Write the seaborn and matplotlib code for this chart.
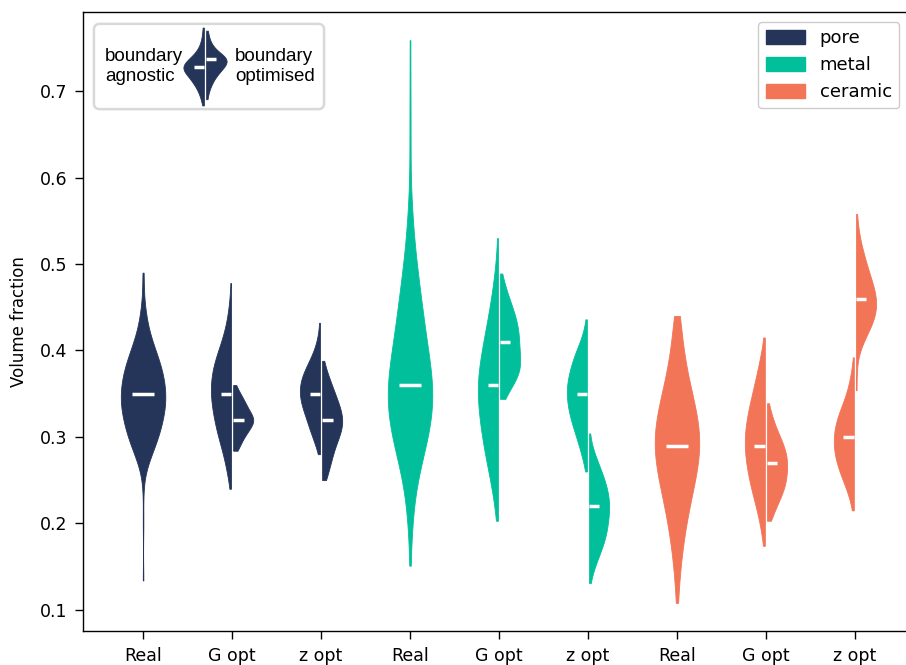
import numpy as np
import pandas as pd
import matplotlib
matplotlib.use("Agg")
import matplotlib.pyplot as plt
from matplotlib.patches import FancyBboxPatch, Patch
import seaborn as sns

# ---------------------------------------------------------------- data
materials = ["pore", "metal", "ceramic"]
methods = ["Real", "G opt", "z opt"]
sides = ["agnostic", "optimised"]
colours = {"pore": "#243559", "metal": "#02bf9b", "ceramic": "#f27558"}

# volume fractions as frequency tables: value levels and number of images at each level
pore_real_levels = [0.134, 0.20, 0.24, 0.26, 0.27, 0.28, 0.29, 0.30, 0.31, 0.32, 0.33, 0.34, 0.35,
                    0.36, 0.37, 0.38, 0.39, 0.40, 0.41, 0.42, 0.43, 0.44, 0.45, 0.46, 0.48, 0.49]
pore_real_counts = [1, 1, 1, 2, 5, 8, 12, 15, 17, 19, 21, 22, 22,
                    21, 20, 18, 15, 12, 9, 6, 4, 3, 2, 1, 1, 1]
pore_g_agnostic_levels = [0.24, 0.25, 0.26, 0.27, 0.28, 0.29, 0.30, 0.31, 0.32, 0.33, 0.34, 0.35,
                          0.36, 0.37, 0.38, 0.39, 0.40, 0.41, 0.42, 0.43, 0.44, 0.45, 0.46, 0.478]
pore_g_agnostic_counts = [1, 2, 4, 5, 7, 9, 12, 14, 15, 17, 18, 19,
                          19, 18, 17, 15, 11, 9, 6, 4, 3, 2, 1, 1]
pore_g_optimised_levels = [0.284, 0.29, 0.30, 0.31, 0.32, 0.33, 0.34, 0.35, 0.36]
pore_g_optimised_counts = [2, 5, 9, 14, 19, 13, 10, 6, 2]
pore_z_agnostic_levels = [0.28, 0.29, 0.30, 0.31, 0.32, 0.33, 0.34, 0.35,
                          0.36, 0.37, 0.38, 0.39, 0.40, 0.41, 0.42, 0.432]
pore_z_agnostic_counts = [1, 4, 7, 10, 12, 15, 18, 19, 19, 17, 13, 9, 5, 3, 1, 1]
pore_z_optimised_levels = [0.25, 0.26, 0.27, 0.28, 0.29, 0.30, 0.31, 0.32,
                           0.33, 0.34, 0.35, 0.36, 0.37, 0.38, 0.388]
pore_z_optimised_counts = [4, 6, 8, 10, 12, 16, 19, 20, 18, 15, 12, 9, 6, 3, 1]

metal_real_levels = [0.151, 0.18, 0.20, 0.22, 0.24, 0.26, 0.28, 0.30, 0.32, 0.34, 0.36, 0.38, 0.40,
                     0.42, 0.44, 0.46, 0.48, 0.50, 0.52, 0.54, 0.56, 0.58, 0.62, 0.66, 0.70, 0.759]
metal_real_counts = [1, 1, 2, 3, 5, 7, 13, 17, 20, 22, 22, 19, 16,
                     14, 12, 10, 8, 6, 4, 3, 2, 1, 1, 1, 1, 1]
metal_g_agnostic_levels = [0.203, 0.22, 0.24, 0.26, 0.28, 0.30, 0.32, 0.34, 0.36,
                           0.38, 0.40, 0.42, 0.44, 0.46, 0.48, 0.50, 0.53]
metal_g_agnostic_counts = [1, 3, 5, 9, 12, 15, 17, 19, 20, 18, 15, 12, 9, 6, 4, 2, 1]
metal_g_optimised_levels = [0.344, 0.35, 0.36, 0.37, 0.38, 0.39, 0.40, 0.41,
                            0.42, 0.43, 0.44, 0.45, 0.46, 0.47, 0.48, 0.489]
metal_g_optimised_counts = [2, 5, 10, 15, 17, 16, 15, 15, 15, 14, 12, 10, 7, 5, 3, 1]
metal_z_agnostic_levels = [0.26, 0.27, 0.28, 0.29, 0.30, 0.31, 0.32, 0.33, 0.34, 0.35,
                           0.36, 0.37, 0.38, 0.39, 0.40, 0.41, 0.42, 0.43, 0.436]
metal_z_agnostic_counts = [1, 3, 5, 7, 10, 12, 15, 17, 18, 19, 19, 17, 15, 13, 10, 6, 3, 1, 1]
metal_z_optimised_levels = [0.131, 0.14, 0.15, 0.16, 0.17, 0.18, 0.19, 0.20, 0.21,
                            0.22, 0.23, 0.24, 0.25, 0.26, 0.27, 0.28, 0.29, 0.304]
metal_z_optimised_counts = [1, 2, 5, 8, 11, 14, 16, 16, 18, 18, 18, 16, 14, 11, 8, 5, 2, 1]

ceramic_real_levels = [0.108, 0.13, 0.15, 0.17, 0.19, 0.21, 0.23, 0.25, 0.27,
                       0.29, 0.31, 0.33, 0.35, 0.37, 0.39, 0.41, 0.43, 0.44]
ceramic_real_counts = [1, 2, 3, 5, 7, 10, 13, 17, 20, 22, 21, 18, 14, 10, 7, 5, 3, 2]
ceramic_g_agnostic_levels = [0.174, 0.19, 0.21, 0.23, 0.25, 0.27, 0.29,
                             0.31, 0.33, 0.35, 0.37, 0.39, 0.415]
ceramic_g_agnostic_counts = [1, 3, 6, 11, 15, 18, 20, 19, 16, 12, 8, 5, 1]
ceramic_g_optimised_levels = [0.203, 0.21, 0.22, 0.23, 0.24, 0.25, 0.26, 0.27,
                              0.28, 0.29, 0.30, 0.31, 0.32, 0.33, 0.339]
ceramic_g_optimised_counts = [2, 5, 8, 12, 15, 17, 17, 18, 17, 15, 11, 8, 5, 3, 1]
ceramic_z_agnostic_levels = [0.215, 0.22, 0.23, 0.24, 0.25, 0.26, 0.27, 0.28, 0.29, 0.30,
                             0.31, 0.32, 0.33, 0.34, 0.35, 0.36, 0.37, 0.38, 0.392]
ceramic_z_agnostic_counts = [1, 2, 4, 7, 11, 14, 17, 19, 20, 20, 19, 17, 14, 10, 7, 5, 3, 2, 1]
ceramic_z_optimised_levels = [0.354, 0.375, 0.39, 0.40, 0.41, 0.42, 0.43, 0.44, 0.45, 0.46,
                              0.47, 0.48, 0.49, 0.50, 0.51, 0.52, 0.53, 0.54, 0.55, 0.558]
ceramic_z_optimised_counts = [1, 1, 1, 3, 6, 10, 14, 17, 18, 18, 16, 14, 11, 9, 7, 5, 3, 2, 1, 1]

# small example distributions for the split-violin key
key_agnostic_levels = [0.0, 0.1, 0.2, 0.3, 0.4, 0.5, 0.6, 0.7, 0.8, 0.9, 1.0]
key_agnostic_counts = [1, 2, 4, 7, 11, 17, 9, 4, 2, 1, 1]
key_optimised_levels = [0.08, 0.2, 0.3, 0.4, 0.5, 0.6, 0.7, 0.8, 0.9, 0.96]
key_optimised_counts = [1, 2, 4, 7, 12, 16, 6, 3, 1, 1]

tables = {
    ("pore", "Real", "real"): (pore_real_levels, pore_real_counts),
    ("pore", "G opt", "agnostic"): (pore_g_agnostic_levels, pore_g_agnostic_counts),
    ("pore", "G opt", "optimised"): (pore_g_optimised_levels, pore_g_optimised_counts),
    ("pore", "z opt", "agnostic"): (pore_z_agnostic_levels, pore_z_agnostic_counts),
    ("pore", "z opt", "optimised"): (pore_z_optimised_levels, pore_z_optimised_counts),
    ("metal", "Real", "real"): (metal_real_levels, metal_real_counts),
    ("metal", "G opt", "agnostic"): (metal_g_agnostic_levels, metal_g_agnostic_counts),
    ("metal", "G opt", "optimised"): (metal_g_optimised_levels, metal_g_optimised_counts),
    ("metal", "z opt", "agnostic"): (metal_z_agnostic_levels, metal_z_agnostic_counts),
    ("metal", "z opt", "optimised"): (metal_z_optimised_levels, metal_z_optimised_counts),
    ("ceramic", "Real", "real"): (ceramic_real_levels, ceramic_real_counts),
    ("ceramic", "G opt", "agnostic"): (ceramic_g_agnostic_levels, ceramic_g_agnostic_counts),
    ("ceramic", "G opt", "optimised"): (ceramic_g_optimised_levels, ceramic_g_optimised_counts),
    ("ceramic", "z opt", "agnostic"): (ceramic_z_agnostic_levels, ceramic_z_agnostic_counts),
    ("ceramic", "z opt", "optimised"): (ceramic_z_optimised_levels, ceramic_z_optimised_counts),
}


def expand(levels, counts):
    return np.repeat(np.asarray(levels, float), np.asarray(counts, int))


samples = {key: expand(*tab) for key, tab in tables.items()}

frames = []
for (mat, meth, side), vals in samples.items():
    frames.append(pd.DataFrame({"material": mat, "method": meth, "side": side,
                                "cat": f"{mat} {meth}", "value": vals}))
df = pd.concat(frames, ignore_index=True)
order = [f"{m} {k}" for m in materials for k in methods]

# ---------------------------------------------------------------- style
sns.set_theme(style="ticks")
plt.rcParams["font.family"] = ["DejaVu Sans"]
plt.rcParams["axes.edgecolor"] = "black"
plt.rcParams["axes.labelcolor"] = "black"
plt.rcParams["text.color"] = "black"
plt.rcParams["xtick.color"] = "black"
plt.rcParams["ytick.color"] = "black"
plt.rcParams["axes.linewidth"] = 1.0

W, H = 906, 665
fig = plt.figure(figsize=(W / 100, H / 100), dpi=100)
ax = fig.add_axes([83 / W, 34 / H, 832 / W, 619 / H])

GAP = 0.1
WIDTH = 0.5
common = dict(x="cat", y="value", order=order, cut=0, inner=None,
              density_norm="width", saturation=1, width=WIDTH,
              linewidth=0.6, legend=False, ax=ax)

for m in materials:
    c = colours[m]
    real = df[(df.material == m) & (df.method == "Real")]
    sns.violinplot(data=real, color=c, linecolor=c, **common)
    opt = df[(df.material == m) & (df.method != "Real")]
    sns.violinplot(data=opt, hue="side", hue_order=sides, split=True, gap=GAP,
                   palette={s: c for s in sides}, linecolor=c, **common)

# median markers
OFF = 0.014
for i, m in enumerate(materials):
    for j, k in enumerate(methods):
        pos = 3 * i + j
        if k == "Real":
            med = np.median(samples[(m, k, "real")])
            ax.hlines(med, pos - 0.125, pos + 0.125, color="white", lw=2.5, zorder=5)
        else:
            ml = np.median(samples[(m, k, "agnostic")])
            mr = np.median(samples[(m, k, "optimised")])
            ax.hlines(ml, pos - OFF - 0.115, pos - OFF, color="white", lw=2.5, zorder=5)
            ax.hlines(mr, pos + OFF, pos + OFF + 0.115, color="white", lw=2.5, zorder=5)

allv = df["value"].to_numpy()
lo, hi = allv.min(), allv.max()
pad = 0.05 * (hi - lo)
ax.set_ylim(lo - pad, hi + pad)
ax.set_xlim(-0.675, 8.675)
ax.set_xticks(range(9))
ax.set_xticklabels(methods * 3)
ax.set_yticks([0.1, 0.2, 0.3, 0.4, 0.5, 0.6, 0.7])
ax.set_yticklabels(["0.1", "0.2", "0.3", "0.4", "0.5", "0.6", "0.7"])
ax.tick_params(labelsize=12.5, length=5.5, width=1.0, pad=6)
ax.spines["right"].set_visible(False)
ax.set_xlabel("")
ax.set_ylabel("Volume fraction", fontsize=12, labelpad=8)

# material legend
handles = [Patch(facecolor=colours[m], edgecolor=colours[m], label=m) for m in materials]
leg = ax.legend(handles=handles, loc="upper right", bbox_to_anchor=(0.981, 0.984),
                borderaxespad=0, fontsize=13, handlelength=2.2, handleheight=0.85,
                frameon=True, fancybox=True, framealpha=1)
leg.get_frame().set_edgecolor("0.8")

# split-violin key
kx0, ky0, kw, kh = 93, 23, 232, 87
key_ax = fig.add_axes([kx0 / W, (H - ky0 - kh) / H, kw / W, kh / H])
key_ax.set_axis_off()
key_ax.set_xlim(0, 1)
key_ax.set_ylim(0, 1)
key_ax.add_patch(FancyBboxPatch((0.004, 0.01), 0.992, 0.98,
                                boxstyle="round,pad=0,rounding_size=0.025",
                                mutation_aspect=kw / kh, transform=key_ax.transAxes,
                                facecolor="white", edgecolor="0.85", lw=1.8, clip_on=False))
key_font = ["Liberation Sans", "DejaVu Sans"]
key_ax.text(0.052, 0.50, "boundary\nagnostic", ha="left", va="center", fontsize=13.5,
            family=key_font, linespacing=1.25, color="black")
key_ax.text(0.612, 0.50, "boundary\noptimised", ha="left", va="center", fontsize=13.5,
            family=key_font, linespacing=1.25, color="black")

key_left = expand(key_agnostic_levels, key_agnostic_counts)
key_right = expand(key_optimised_levels, key_optimised_counts)
key_df = pd.DataFrame({
    "k": "key",
    "side": ["agnostic"] * len(key_left) + ["optimised"] * len(key_right),
    "value": np.concatenate([key_left, key_right]),
})
icon = fig.add_axes([180 / W, (H - 107) / H, 50 / W, 81 / H])
pc = colours["pore"]
sns.violinplot(data=key_df, x="k", y="value", hue="side", hue_order=sides, split=True,
               gap=GAP, palette={s: pc for s in sides}, linecolor=pc, width=1.0, cut=0,
               inner=None, density_norm="width", saturation=1, linewidth=0.6,
               legend=False, ax=icon)
icon.set_xlim(-0.55, 0.55)
icon.set_ylim(-0.02, 1.02)
icon.hlines(np.median(key_left), -0.03 - 0.22, -0.03, color="white", lw=2.5, zorder=5)
icon.hlines(np.median(key_right), 0.03, 0.03 + 0.22, color="white", lw=2.5, zorder=5)
icon.set_axis_off()

fig.savefig("out.png", dpi=100)
